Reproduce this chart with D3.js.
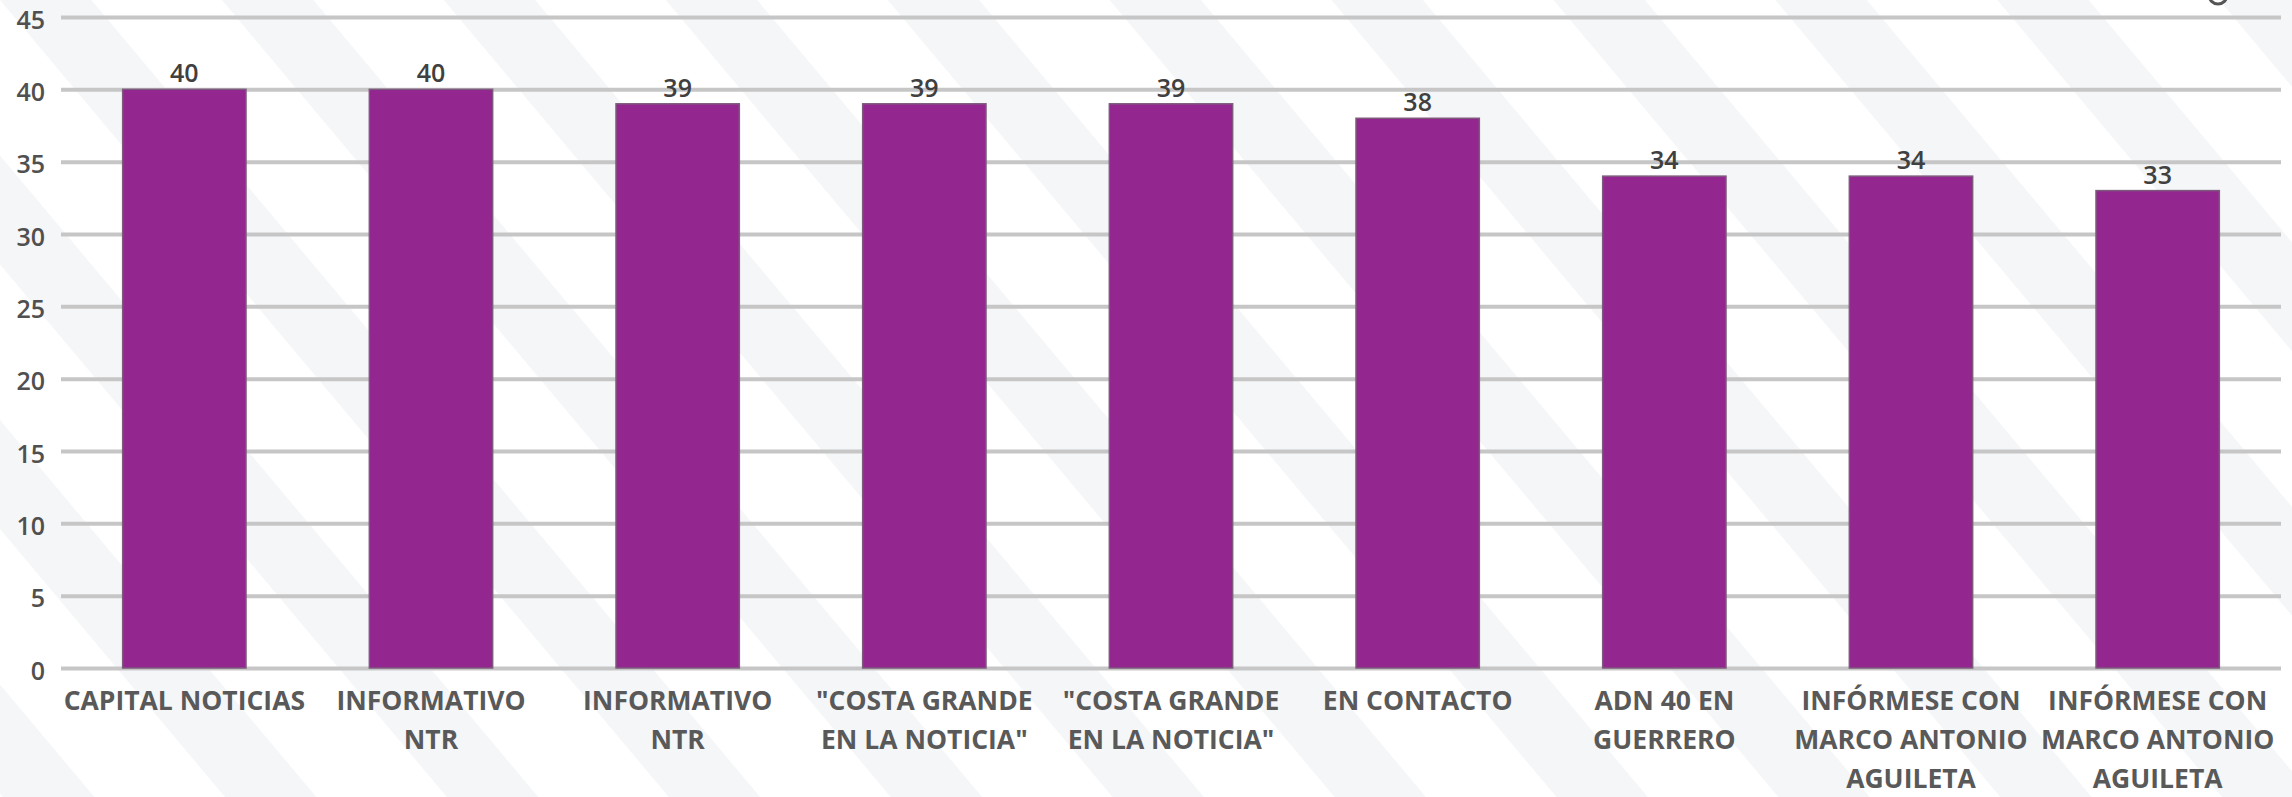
<!DOCTYPE html>
<html>
<head>
<meta charset="utf-8">
<script src="https://cdn.jsdelivr.net/npm/d3@7"></script>
<style>
  html, body { margin: 0; padding: 0; background: #ffffff; overflow: hidden; }
  svg { display: block; }
</style>
</head>
<body>
<svg id="chart" width="2292" height="797"></svg>
<script>
const categories = [
  "CAPITAL NOTICIAS",
  "INFORMATIVO\nNTR",
  "INFORMATIVO\nNTR",
  "\"COSTA GRANDE\nEN LA NOTICIA\"",
  "\"COSTA GRANDE\nEN LA NOTICIA\"",
  "EN CONTACTO",
  "ADN 40 EN\nGUERRERO",
  "INFÓRMESE CON\nMARCO ANTONIO\nAGUILETA",
  "INFÓRMESE CON\nMARCO ANTONIO\nAGUILETA"
];
const values = [40, 40, 39, 39, 39, 38, 34, 34, 33];
const yTicks = [0, 5, 10, 15, 20, 25, 30, 35, 40, 45];

const W = 2292, H = 797;
const svg = d3.select("#chart");

// background watermark stripes
const defs = svg.append("defs");
const pat = defs.append("pattern")
  .attr("id", "stripes")
  .attr("patternUnits", "userSpaceOnUse")
  .attr("width", 170).attr("height", 170)
  .attr("patternTransform", "rotate(-40)");
pat.append("rect").attr("width", 170).attr("height", 170).attr("fill", "#ffffff");
pat.append("rect").attr("x", 0).attr("width", 70).attr("height", 170).attr("fill", "#f5f6f8");
svg.append("rect").attr("width", W).attr("height", H).attr("fill", "url(#stripes)");

const x = d3.scaleBand()
  .domain(d3.range(categories.length))
  .range([61, 2281])
  .paddingInner(0.5)
  .paddingOuter(0.25);

const y = d3.scaleLinear().domain([0, 45]).range([668, 17]);

// gridlines
const yAxis = d3.axisLeft(y)
  .tickValues(yTicks)
  .tickSize(-(2281 - 61))
  .tickPadding(16)
  .tickFormat(d3.format("d"));

const gy = svg.append("g")
  .attr("transform", "translate(61,0)")
  .call(yAxis);
gy.select(".domain").remove();
gy.selectAll(".tick line")
  .attr("stroke", "#c6c6c6")
  .attr("stroke-width", 4);
gy.selectAll(".tick text")
  .attr("fill", "#505050")
  .attr("font-family", "'Open Sans', sans-serif")
  .attr("font-weight", 600)
  .attr("font-size", 25)
  .attr("dy", "0.45em");

// bars
svg.append("g").selectAll("rect")
  .data(values)
  .join("rect")
  .attr("x", (d, i) => x(i))
  .attr("y", d => y(d))
  .attr("width", x.bandwidth())
  .attr("height", d => y(0) - y(d))
  .attr("fill", "#93268f")
  .attr("stroke", "#7d5a7c")
  .attr("stroke-width", 1.5);

// value labels
svg.append("g").selectAll("text")
  .data(values)
  .join("text")
  .attr("x", (d, i) => x(i) + x.bandwidth() / 2)
  .attr("y", d => y(d) - 7)
  .attr("text-anchor", "middle")
  .attr("fill", "#404040")
  .attr("font-family", "'Open Sans', sans-serif")
  .attr("font-weight", 600)
  .attr("font-size", 25)
  .text(d => d);

// category labels
const xAxis = d3.axisBottom(x).tickSize(0).tickFormat("");
const gx = svg.append("g").attr("transform", `translate(0,${y(0)})`).call(xAxis);
gx.select(".domain").remove();
gx.selectAll(".tick").each(function(d) {
  const lines = categories[d].split("\n");
  const t = d3.select(this).append("text")
    .attr("text-anchor", "middle")
    .attr("fill", "#595959")
    .attr("font-family", "'Open Sans', sans-serif")
    .attr("font-weight", 700)
    .attr("font-size", 26.5)
    .attr("y", 42);
  lines.forEach((ln, k) => {
    t.append("tspan").attr("x", 0).attr("dy", k === 0 ? 0 : 39).text(ln);
  });
});

// small partial ring at top right
svg.append("circle")
  .attr("cx", 2218).attr("cy", -5).attr("r", 9)
  .attr("fill", "none").attr("stroke", "#555").attr("stroke-width", 3);
</script>
</body>
</html>
